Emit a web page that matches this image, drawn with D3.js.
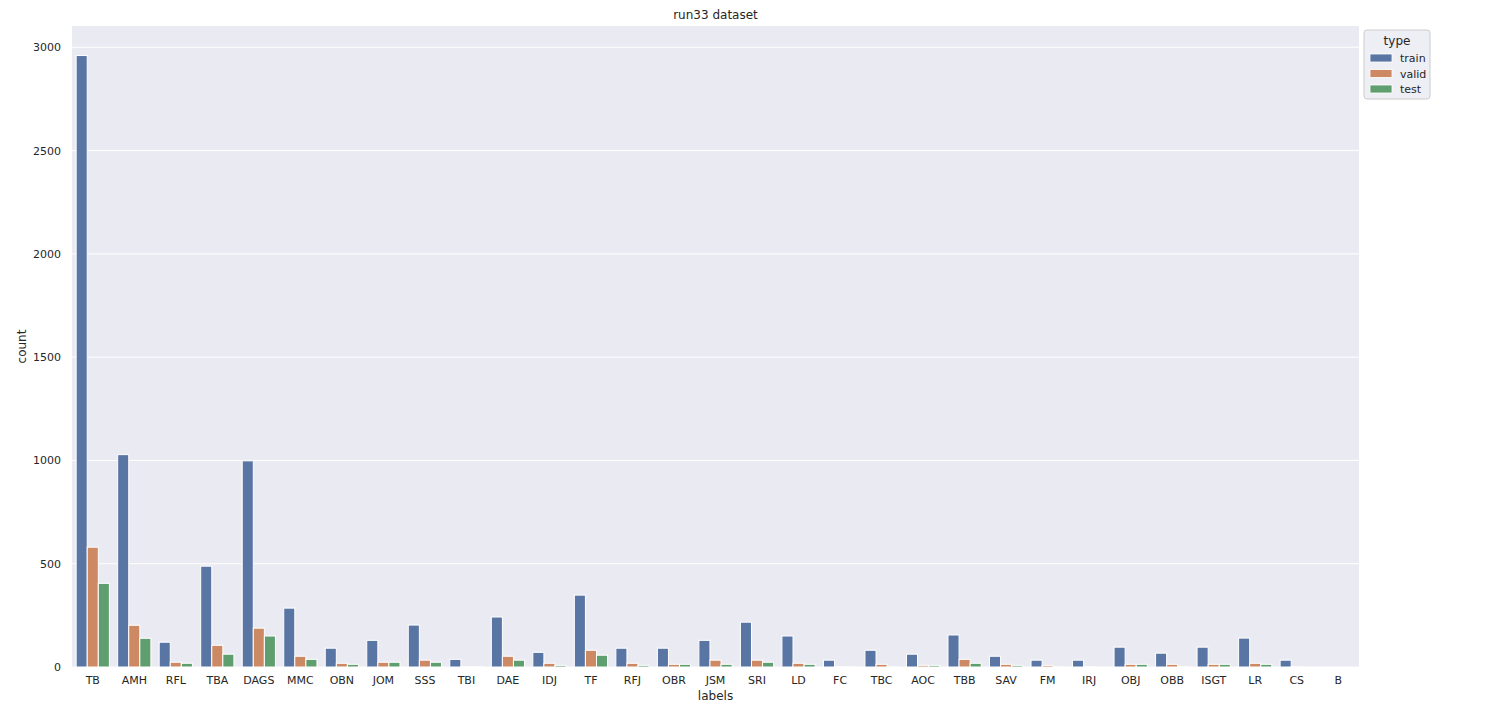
<!DOCTYPE html>
<html>
<head>
<meta charset="utf-8">
<script src="https://cdn.jsdelivr.net/npm/d3@7"></script>
<style>
  body { margin: 0; background: #fff; }
  text { font-family: "DejaVu Sans", sans-serif; fill: #262626; }
</style>
</head>
<body>
<div id="chart"></div>
<script>
const labels = ["TB","AMH","RFL","TBA","DAGS","MMC","OBN","JOM","SSS","TBI","DAE","IDJ","TF","RFJ","OBR","JSM","SRI","LD","FC","TBC","AOC","TBB","SAV","FM","IRJ","OBJ","OBB","ISGT","LR","CS","B"];
const types = ["train","valid","test"];
const train = [2960,1028,120,488,998,285,91,129,203,37,242,71,348,91,91,129,217,150,33,81,62,155,52,33,33,96,67,96,140,33,0];
const valid = [580,202,23,105,188,52,18,23,33,2,52,18,81,18,13,33,33,18,2,13,8,37,13,8,2,13,13,13,18,2,0];
const test  = [405,139,18,62,150,37,13,23,23,2,33,8,57,8,13,13,23,13,2,2,8,18,8,2,0,13,2,13,13,0,0];
const yTicks = [0,500,1000,1500,2000,2500,3000];
const colors = ["#5975a4","#cc8963","#5f9e6e"];

const W = 1495, H = 720;
const m = {left: 72, right: 136, top: 26, bottom: 53};
const series = [train, valid, test];

const svg = d3.select("#chart").append("svg")
  .attr("width", W).attr("height", H);

const x = d3.scaleBand().domain(labels)
  .range([m.left, W - m.right]).paddingInner(0.2).paddingOuter(0.1);
const xi = d3.scaleBand().domain(types).range([0, x.bandwidth()]);
const y = d3.scaleLinear().domain([0, 3103]).range([H - m.bottom, m.top]);

svg.append("rect")
  .attr("x", m.left).attr("y", m.top)
  .attr("width", W - m.right - m.left).attr("height", H - m.bottom - m.top)
  .attr("fill", "#eaeaf2");

svg.append("g").selectAll("line").data(yTicks).enter().append("line")
  .attr("x1", m.left).attr("x2", W - m.right)
  .attr("y1", d => y(d)).attr("y2", d => y(d))
  .attr("stroke", "#fff").attr("stroke-width", 1);

const rows = labels.map((l, i) => types.map((t, j) => ({label: l, type: t, j: j, v: series[j][i]})));

svg.append("g").selectAll("g").data(rows).enter().append("g")
  .attr("transform", d => `translate(${x(d[0].label)},0)`)
  .selectAll("rect").data(d => d).enter().append("rect")
  .attr("x", d => xi(d.type))
  .attr("y", d => y(d.v))
  .attr("width", xi.bandwidth())
  .attr("height", d => y(0) - y(d.v))
  .attr("fill", d => colors[d.j])
  .attr("stroke", "#fff").attr("stroke-width", 1);

const xAxis = svg.append("g")
  .attr("transform", `translate(0,${H - m.bottom})`)
  .call(d3.axisBottom(x).tickSize(0).tickPadding(9));
xAxis.select(".domain").remove();
xAxis.selectAll("text").style("font-size", "11px").attr("fill", "#262626");

const yAxis = svg.append("g")
  .attr("transform", `translate(${m.left},0)`)
  .call(d3.axisLeft(y).tickValues(yTicks).tickFormat(d3.format("d")).tickSize(0).tickPadding(11));
yAxis.select(".domain").remove();
yAxis.selectAll("text").style("font-size", "11px").attr("fill", "#262626");

svg.append("text")
  .attr("x", (m.left + W - m.right) / 2).attr("y", 700)
  .attr("text-anchor", "middle").style("font-size", "12px")
  .text("labels");

svg.append("text")
  .attr("transform", `translate(26,${(m.top + H - m.bottom) / 2}) rotate(-90)`)
  .attr("text-anchor", "middle").style("font-size", "12px")
  .text("count");

svg.append("text")
  .attr("x", (m.left + W - m.right) / 2).attr("y", 19)
  .attr("text-anchor", "middle").style("font-size", "12px")
  .text("run33 dataset");

// legend
const lg = svg.append("g").attr("transform", "translate(1364,30)");
lg.append("rect")
  .attr("width", 66).attr("height", 69).attr("rx", 3)
  .attr("fill", "#eaeaf2").attr("fill-opacity", 0.8)
  .attr("stroke", "#cccccc").attr("stroke-width", 1);
lg.append("text").attr("x", 33).attr("y", 15)
  .attr("text-anchor", "middle").style("font-size", "12px").text("type");
const items = lg.selectAll(".item").data(types).enter().append("g")
  .attr("transform", (d, i) => `translate(6,${28 + i * 15.5})`);
items.append("rect").attr("width", 22).attr("height", 8).attr("y", -4)
  .attr("fill", (d, i) => colors[i]).attr("stroke", "#fff").attr("stroke-width", 0.8);
items.append("text").attr("x", 30).attr("y", 4)
  .style("font-size", "11px").text(d => d);
</script>
</body>
</html>
